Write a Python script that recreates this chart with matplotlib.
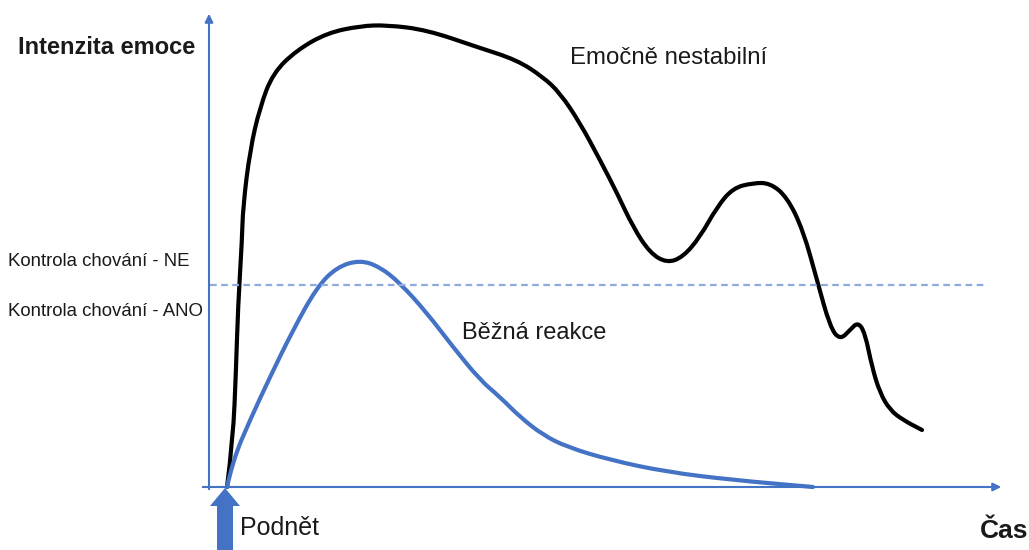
import matplotlib.pyplot as plt
from matplotlib.patches import FancyArrow, PathPatch
from matplotlib.path import Path

plt.rcParams['font.family'] = ['Liberation Sans', 'DejaVu Sans']

# Curves (x = time, y = emotion intensity)
unstable_x = [0, 6, 9, 11, 15, 16, 23, 33, 46, 70, 100, 133, 160, 200, 250,
              290, 316, 333, 353, 373, 390, 406, 423, 440, 456, 473, 490, 506,
              526, 543, 560, 576, 590, 603, 613, 623, 631, 638, 645, 653, 663,
              676, 695]
unstable_y = [0, 47, 117, 180, 247, 280, 337, 380, 414, 437, 454, 461, 462,
              457, 440, 427, 410, 394, 364, 327, 294, 260, 234, 224, 230, 250,
              280, 299, 304, 304, 290, 257, 207, 160, 147, 157, 165, 154, 120,
              94, 77, 67, 57]

normal_x = [0, 6, 23, 43, 66, 90, 110, 133, 153, 173, 200, 226, 253, 273,
            293, 316, 340, 383, 440, 506, 586]
normal_y = [0, 27, 67, 110, 157, 200, 220, 227, 220, 204, 174, 140, 107, 90,
            70, 52, 40, 27, 15, 7, 0]

control_level = 202
labels_control = ['Kontrola chování - NE', 'Kontrola chování - ANO']

blue = '#4472C4'
light_blue = '#8FAADC'
text_color = '#1a1a1a'


def smooth_curve(xs, ys, color):
    # quadratic bezier through midpoints, read points act as control points
    verts = [(xs[0], ys[0])]
    codes = [Path.MOVETO]
    for i in range(1, len(xs) - 1):
        mid = ((xs[i] + xs[i + 1]) / 2, (ys[i] + ys[i + 1]) / 2)
        verts += [(xs[i], ys[i]), mid]
        codes += [Path.CURVE3, Path.CURVE3]
    verts.append((xs[-1], ys[-1]))
    codes.append(Path.LINETO)
    return PathPatch(Path(verts, codes), facecolor='none', edgecolor=color,
                     lw=3, capstyle='round', joinstyle='round')


fig = plt.figure(figsize=(10.29, 5.5), dpi=100)
ax = fig.add_axes([0, 0, 1, 1])
ax.set_xlim(-227, 802)
ax.set_ylim(-63, 487)
ax.axis('off')

# axes arrows
ax.annotate('', xy=(777, 0), xytext=(-27, 0),
            arrowprops=dict(arrowstyle='-|>', color=blue, lw=1.5, mutation_scale=12))
ax.annotate('', xy=(-18, 476), xytext=(-18, -5),
            arrowprops=dict(arrowstyle='-|>', color=blue, lw=1.5, mutation_scale=12))

# threshold line
ax.plot([-17, 758], [control_level, control_level], color=light_blue, lw=1.6,
        linestyle=(0, (3, 2)))

ax.add_patch(smooth_curve(unstable_x, unstable_y, 'black'))
ax.add_patch(smooth_curve(normal_x, normal_y, blue))

# stimulus arrow
ax.add_patch(FancyArrow(-2, -63, 0, 62, width=16, head_width=30, head_length=18,
                        length_includes_head=True, color=blue, lw=0))

ax.text(-209, 439, 'Intenzita emoce', fontsize=17, fontweight='bold',
        va='center', color=text_color)
ax.text(753, -44, 'Čas', fontsize=19, fontweight='bold', va='center',
        color=text_color)
ax.text(13, -41, 'Podnět', fontsize=18, va='center', color=text_color)
ax.text(343, 429, 'Emočně nestabilní', fontsize=17.3, va='center', color=text_color)
ax.text(235, 154, 'Běžná reakce', fontsize=17, va='center', color=text_color)
ax.text(-219, 225, labels_control[0], fontsize=13.4, va='center', color=text_color)
ax.text(-219, 175, labels_control[1], fontsize=13.4, va='center', color=text_color)

fig.savefig('out.png', dpi=100)
